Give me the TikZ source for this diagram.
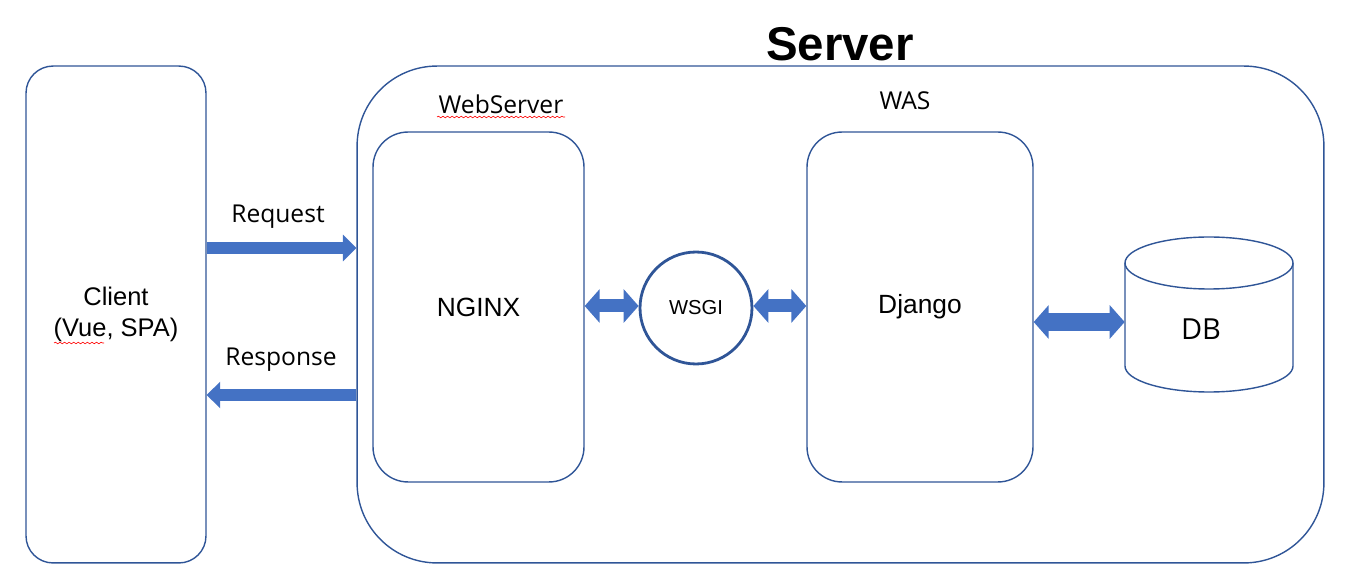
\documentclass[tikz,border=0pt]{standalone}
\usepackage{fontspec}
\setmainfont{Liberation Sans}
\newfontfamily\gothic{Open Sans}
\usetikzlibrary{arrows.meta,decorations.pathmorphing,positioning}
\definecolor{edgeblue}{HTML}{2F5597}
\definecolor{fillblue}{HTML}{4472C4}
\tikzset{
  box/.style={draw=edgeblue, line width=0.8pt, rounded corners=#1},
  oneway/.style={draw=fillblue, line width=0.24cm, -{Triangle[length=0.27cm,width=0.52cm]}},
  twoway/.style={draw=fillblue, line width=#1, {Triangle[length=0.3cm,width=0.66cm]}-{Triangle[length=0.3cm,width=0.66cm]}},
  spell/.style={draw=red, line width=0.35pt, decorate, decoration={snake, amplitude=0.45pt, segment length=2.6pt}},
  txt/.style={font=\fontsize{14.5pt}{18pt}\selectfont, align=center},
  gtxt/.style={font=\gothic\fontsize{14pt}{16pt}\selectfont}
}
\begin{document}
\begin{tikzpicture}[x=0.02cm, y=-0.02cm]
\useasboundingbox (0,0) rectangle (1347,577);
% client and server frames
\node[box=0.54cm, minimum width=3.6cm, minimum height=9.94cm, txt] (client) at (116,314.5) {Client\\(Vue, SPA)};
\node[box=1.6cm, minimum width=19.34cm, minimum height=9.94cm] (server) at (840.5,314.5) {};
\node[font=\bfseries\fontsize{27pt}{32pt}\selectfont] (title) at (840,44) {Server};
\node[gtxt] (websrv) at (501,104) {WebServer};
\node[gtxt] (was) at (905,101) {WAS};
% inside the server
\node[box=0.7cm, minimum width=4.22cm, minimum height=7cm, txt, font=\fontsize{15pt}{18pt}\selectfont] (nginx) at (478.5,307) {NGINX};
\node[circle, draw=edgeblue, line width=1.6pt, minimum size=2.24cm, inner sep=0pt, font=\fontsize{11.5pt}{14pt}\selectfont] (wsgi) at (696,308) {WSGI};
\node[box=0.7cm, minimum width=4.52cm, minimum height=7cm, txt, font=\fontsize{15pt}{18pt}\selectfont] (django) at (920,307) {Django};
% database
\node[minimum width=3.36cm, minimum height=3.1cm, inner sep=0pt] (db) at (1209,314.5) {};
\draw[draw=edgeblue, line width=0.8pt] (1209,263) ellipse [x radius=84, y radius=26];
\draw[draw=edgeblue, line width=0.8pt] (1125,263) -- (1125,366) arc[start angle=180, end angle=0, x radius=84, y radius=26] -- (1293,263);
\node[gtxt, font=\gothic\fontsize{16.5pt}{18pt}\selectfont] (dblabel) at (1201,329) {DB};
% request / response
\draw[oneway] (client.east |- 0,248) -- (server.west |- 0,248);
\draw[oneway] (server.west |- 0,395) -- (client.east |- 0,395);
\node[gtxt] (req) at (278,217) {Request};
\node[gtxt] (resp) at (281,360) {Response};
% links
\draw[twoway=0.26cm] (nginx.east |- 0,306) -- (wsgi.west |- 0,306);
\draw[twoway=0.26cm] (wsgi.east |- 0,306) -- (django.west |- 0,306);
\draw[twoway=0.36cm] (django.east |- 0,322) -- (db.west |- 0,322);
% spell check marks
\draw[spell] (437,117) -- (565,117);
\draw[spell] (54,343) -- (104,343);
\end{tikzpicture}
\end{document}
